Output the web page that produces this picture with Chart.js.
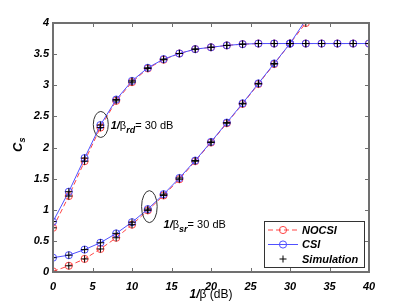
<!DOCTYPE html>
<html>
<head>
<meta charset="utf-8">
<script src="https://cdn.jsdelivr.net/npm/chart.js@4"></script>
<style>
  html, body { margin: 0; padding: 0; background: #fff; }
  #wrap { width: 407px; height: 306px; }
</style>
</head>
<body>
<div id="wrap"><canvas id="chart" width="407" height="306"></canvas></div>
<script>
// значения 1/β (dB)
const xValues = [0, 2, 4, 6, 8, 10, 12, 14, 16, 18, 20, 22, 24, 26, 28, 30, 32, 34, 36, 38, 40];
// верхняя кривая: 1/β_rd = 30 dB
const csiRd   = [0.81, 1.29, 1.83, 2.36, 2.77, 3.07, 3.28, 3.42, 3.51, 3.58, 3.61, 3.64, 3.66, 3.67, 3.67, 3.67, 3.67, 3.67, 3.67, 3.67, 3.67];
const nocsiRd = [0.71, 1.22, 1.78, 2.32, 2.75, 3.05, 3.27, 3.41, 3.51, 3.58, 3.61, 3.64, 3.66, 3.67, 3.67, 3.67, 3.67, 3.67, 3.67, 3.67, 3.67];
// нижняя кривая: 1/β_sr = 30 dB (до 32 dB)
const csiSr   = [0.23, 0.27, 0.36, 0.47, 0.62, 0.80, 1.01, 1.25, 1.51, 1.79, 2.09, 2.40, 2.71, 3.03, 3.35, 3.67, 4.05];
const nocsiSr = [0.01, 0.10, 0.21, 0.37, 0.55, 0.76, 0.99, 1.23, 1.49, 1.78, 2.08, 2.39, 2.70, 3.02, 3.34, 3.67, 4.00];
const xTicks = [0, 5, 10, 15, 20, 25, 30, 35, 40];
const yTicks = [0, 0.5, 1, 1.5, 2, 2.5, 3, 3.5, 4];
const legendLabels = ["NOCSI", "CSI", "Simulation"];

const RED = "rgb(255,70,70)";
const BLUE = "rgb(80,80,255)";
const AXIS = "#707070";
const pts = (ys) => ys.map((y, i) => ({ x: xValues[i], y }));

function lineDs(label, ys, color, dashed, order) {
  return {
    label, data: pts(ys), borderColor: color, backgroundColor: "transparent",
    borderWidth: 1, borderDash: dashed ? [5, 3] : [], pointStyle: "circle",
    pointRadius: 3.6, pointBorderColor: color, pointBorderWidth: 1,
    pointBackgroundColor: "transparent", tension: 0, order, clip: 0,
  };
}
function simDs(ys) {
  return {
    label: "Simulation", data: pts(ys), showLine: false, pointStyle: "cross",
    pointRadius: 3.6, pointBorderColor: "#000", pointBorderWidth: 1, order: 0, clip: 0,
  };
}

// тики внутрь, рамка, подписи осей, эллипсы и легенда
const decor = {
  id: "decor",
  afterDatasetsDraw(chart) {
    const { ctx, chartArea: a, scales: { x, y } } = chart;
    ctx.save();
    ctx.strokeStyle = AXIS;
    ctx.lineWidth = 1;
    ctx.beginPath();
    xTicks.forEach(v => {
      const px = Math.round(x.getPixelForValue(v)) + 0.5;
      ctx.moveTo(px, a.bottom); ctx.lineTo(px, a.bottom - 4);
      ctx.moveTo(px, a.top); ctx.lineTo(px, a.top + 4);
    });
    yTicks.forEach(v => {
      const py = Math.round(y.getPixelForValue(v)) + 0.5;
      ctx.moveTo(a.left, py); ctx.lineTo(a.left + 4, py);
      ctx.moveTo(a.right, py); ctx.lineTo(a.right - 4, py);
    });
    ctx.stroke();
    ctx.lineWidth = 2;
    ctx.strokeRect(a.left, a.top, a.right - a.left, a.bottom - a.top);

    // эллипсы
    ctx.strokeStyle = "#333";
    ctx.lineWidth = 1;
    ctx.beginPath();
    ctx.ellipse(x.getPixelForValue(6.05), y.getPixelForValue(2.37), 7.5, 13, 0, 0, Math.PI * 2);
    ctx.stroke();
    ctx.beginPath();
    ctx.ellipse(x.getPixelForValue(12.2), y.getPixelForValue(1.05), 7.8, 16, 0, 0, Math.PI * 2);
    ctx.stroke();

    // подписи 1/β
    function beta(px, py, sub) {
      ctx.fillStyle = "#000";
      ctx.textBaseline = "alphabetic";
      ctx.textAlign = "left";
      ctx.font = "bold italic 11px 'Liberation Sans'";
      ctx.fillText("1/", px, py);
      let w = ctx.measureText("1/").width;
      ctx.font = "11px 'Liberation Sans'";
      ctx.fillText("β", px + w, py);
      w += ctx.measureText("β").width;
      ctx.font = "bold italic 9px 'Liberation Sans'";
      ctx.fillText(sub, px + w, py + 4);
      w += ctx.measureText(sub).width;
      ctx.font = "11px 'Liberation Sans'";
      ctx.fillText("= 30 dB", px + w, py);
    }
    beta(x.getPixelForValue(7.3), y.getPixelForValue(2.29), "rd");
    beta(x.getPixelForValue(14), y.getPixelForValue(0.71), "sr");

    // подпись оси X
    ctx.font = "bold italic 12px 'Liberation Sans'";
    let t1 = ctx.measureText("1/").width;
    ctx.font = "12px 'Liberation Sans'";
    let t2 = ctx.measureText("β (dB)").width;
    let sx = (a.left + a.right) / 2 - (t1 + t2) / 2;
    ctx.font = "bold italic 12px 'Liberation Sans'";
    ctx.fillText("1/", sx, 298);
    ctx.font = "12px 'Liberation Sans'";
    ctx.fillText("β (dB)", sx + t1, 298);

    // подпись оси Y
    ctx.save();
    ctx.translate(22, 152);
    ctx.rotate(-Math.PI / 2);
    ctx.font = "bold italic 13px 'Liberation Sans'";
    ctx.fillText("C", 0, 0);
    const cw = ctx.measureText("C").width;
    ctx.font = "bold italic 9px 'Liberation Sans'";
    ctx.fillText("s", cw, 3);
    ctx.restore();

    // легенда
    const lx = 264, ly = 221, lw = 100, lh = 46;
    ctx.fillStyle = "#fff";
    ctx.fillRect(lx, ly, lw, lh);
    ctx.strokeStyle = "#333";
    ctx.lineWidth = 1;
    ctx.strokeRect(lx + 0.5, ly + 0.5, lw, lh);
    const rows = [230, 244.5, 259];
    const styles = [[RED, true, "circle"], [BLUE, false, "circle"], ["#000", null, "cross"]];
    rows.forEach((ry, i) => {
      const [c, dashed, shape] = styles[i];
      ctx.strokeStyle = c;
      if (dashed !== null) {
        ctx.setLineDash(dashed ? [5, 3] : []);
        ctx.beginPath(); ctx.moveTo(268, ry); ctx.lineTo(298, ry); ctx.stroke();
        ctx.setLineDash([]);
        ctx.beginPath(); ctx.arc(283, ry, 3.6, 0, Math.PI * 2); ctx.stroke();
      } else {
        ctx.beginPath();
        ctx.moveTo(279.5, ry); ctx.lineTo(286.5, ry);
        ctx.moveTo(283, ry - 3.5); ctx.lineTo(283, ry + 3.5);
        ctx.stroke();
      }
      ctx.fillStyle = "#000";
      ctx.font = "bold italic 11px 'Liberation Sans'";
      ctx.textBaseline = "middle";
      ctx.fillText(legendLabels[i], 302, ry + 0.5);
    });
    ctx.restore();
  },
};

const tickFont = { family: "Liberation Sans", size: 11, style: "italic", weight: "bold" };
const ctx = document.getElementById("chart").getContext("2d");
new Chart(ctx, {
  type: "line",
  data: {
    datasets: [
      simDs(csiRd), simDs(nocsiRd), simDs(csiSr), simDs(nocsiSr),
      lineDs("CSI", csiRd, BLUE, false, 1),
      lineDs("CSI", csiSr, BLUE, false, 1),
      lineDs("NOCSI", nocsiRd, RED, true, 2),
      lineDs("NOCSI", nocsiSr, RED, true, 2),
    ],
  },
  options: {
    responsive: false,
    animation: false,
    layout: { padding: { top: 23, right: 38, left: 0, bottom: 0 } },
    plugins: { legend: { display: false }, tooltip: { enabled: false } },
    scales: {
      x: {
        type: "linear", min: 0, max: 40,
        afterFit: (s) => { s.height = 34; },
        afterBuildTicks: (s) => { s.ticks = xTicks.map(v => ({ value: v })); },
        grid: { display: false, drawTicks: false },
        border: { display: false },
        ticks: { padding: 8, color: "#000", font: tickFont, callback: (v) => String(v) },
      },
      y: {
        type: "linear", min: 0, max: 4,
        afterFit: (s) => { s.width = 53; },
        afterBuildTicks: (s) => { s.ticks = yTicks.map(v => ({ value: v })); },
        grid: { display: false, drawTicks: false },
        border: { display: false },
        ticks: { padding: 4, color: "#000", font: tickFont, callback: (v) => String(v) },
      },
    },
  },
  plugins: [decor],
});
</script>
</body>
</html>
